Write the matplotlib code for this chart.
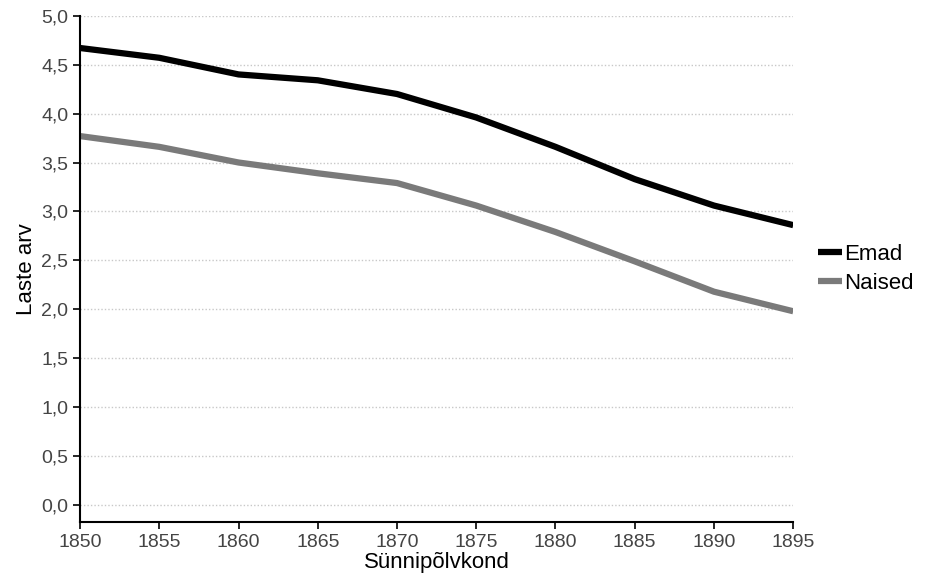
import matplotlib
matplotlib.use("Agg")
import matplotlib.pyplot as plt
from matplotlib.ticker import FuncFormatter

plt.rcParams["font.family"] = ["Liberation Sans", "DejaVu Sans"]

years = [1850, 1855, 1860, 1865, 1870, 1875, 1880, 1885, 1890, 1895]
emad = [4.67, 4.57, 4.40, 4.34, 4.20, 3.96, 3.66, 3.33, 3.06, 2.86]
naised = [3.77, 3.66, 3.50, 3.39, 3.29, 3.06, 2.79, 2.49, 2.18, 1.98]
y_ticks = [0.0, 0.5, 1.0, 1.5, 2.0, 2.5, 3.0, 3.5, 4.0, 4.5, 5.0]

fig = plt.figure(figsize=(9.31, 5.82), dpi=100)
ax = fig.add_axes([0.086, 0.103, 0.766, 0.870])

ax.plot(years, emad, color="black", linewidth=4.5, label="Emad",
        solid_capstyle="butt", solid_joinstyle="round")
ax.plot(years, naised, color="#7a7a7a", linewidth=4.5, label="Naised",
        solid_capstyle="butt", solid_joinstyle="round")

for t in y_ticks:
    ax.axhline(t, color="#c8c8c8", linestyle=(0, (1, 1.5)), linewidth=1, zorder=0)

ax.set_xlim(1850, 1895)
ax.set_ylim(-0.174, 5.0)
ax.set_xticks(years)
ax.set_yticks(y_ticks)
ax.yaxis.set_major_formatter(FuncFormatter(lambda v, p: f"{v:.1f}".replace(".", ",")))

for s in ["top", "right"]:
    ax.spines[s].set_visible(False)
for s in ["left", "bottom"]:
    ax.spines[s].set_linewidth(1.5)

ax.tick_params(axis="both", labelsize=14, labelcolor="#444444", width=1.2, length=5)
ax.set_xlabel("Sünnipõlvkond", fontsize=16, labelpad=1)
ax.set_ylabel("Laste arv", fontsize=16, labelpad=3)

ax.legend(loc="center left", bbox_to_anchor=(1.0, 0.5), frameon=False, fontsize=16,
          handlelength=1.1, handletextpad=0.1, labelspacing=0.35, borderaxespad=0.7)

fig.savefig("out.png", dpi=100, facecolor="white")
